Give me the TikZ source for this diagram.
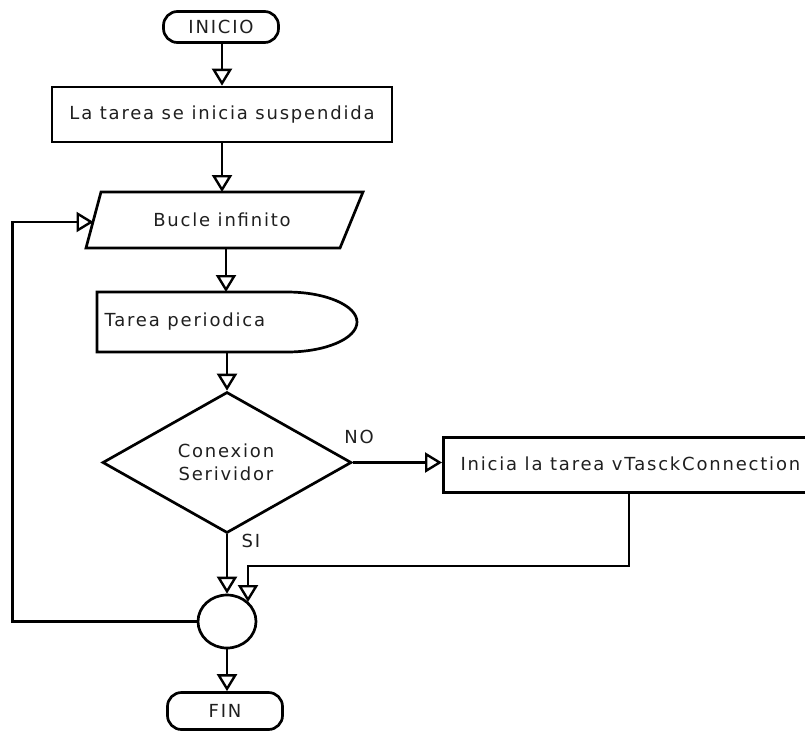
\documentclass[tikz,border=0pt]{standalone}
\usepackage{fontspec}
\newfontfamily\chartfont[LetterSpace=10]{DejaVu Sans}
\usetikzlibrary{arrows.meta,shapes.geometric,calc}
\begin{document}
\begin{tikzpicture}[x=1pt,y=-1pt,
  every node/.style={font=\chartfont\fontsize{18}{23}\selectfont, text=black!88},
  shapeline/.style={draw=black, line width=2.7pt},
  flow/.style={draw=black, line width=2.7pt,
    -{Triangle[open,length=17pt,width=20pt,line width=2.4pt]}},
  terminal/.style={shapeline, rounded corners=14pt, minimum width=115pt, inner sep=0pt},
  process/.style={shapeline, inner sep=0pt},
]
\useasboundingbox (0,0) rectangle (805,732);
\clip (0,0) rectangle (805,732);

% start
\node[terminal, minimum height=31pt] (inicio) at (221,27) {INICIO};

% first process box
\node[process, minimum width=340pt, minimum height=55pt] (suspend) at (222,114.5)
  {La tarea se inicia suspendida};

% loop header (parallelogram)
\draw[shapeline] (101,192) -- (363,192) -- (340,248) -- (86,248) -- cycle;
\node (bucle) at (222,220) {Bucle infinito};
\coordinate (bucletop) at (222,192);
\coordinate (buclebot) at (226,248);
\coordinate (bucleleft) at (93.5,222);

% periodic task (delay shape)
\draw[shapeline] (97,292) -- (287,292)
  arc[start angle=-90, end angle=90, x radius=70, y radius=30] -- (97,352) -- cycle;
\node[anchor=west] (tarea) at (101,322) {Tarea periodica};
\coordinate (tareatop) at (226,292);
\coordinate (tareabot) at (227,352);

% decision
\node[diamond, shapeline, minimum width=249pt, minimum height=141pt, inner sep=0pt]
  (cond) at (227,462.5) {};
\node[align=center] (condtxt) at (226,462) {Conexion\\Serividor};
\node (no) at (359,437) {NO};
\node (si) at (251,541) {SI};

% connection task
\node[process, minimum width=370pt, minimum height=55pt, anchor=north west]
  (conn) at (442,436) {};
\node[anchor=west] (conntxt) at (457,463.5) {Inicia la tarea vTasckConnection};
\coordinate (connout) at (629,491);

% merge point
\node[ellipse, shapeline, minimum width=58pt, minimum height=53pt, inner sep=0pt]
  (merge) at (227,621.5) {};
\coordinate (mergein) at (248,602);

% end
\node[terminal, minimum height=37pt] (fin) at (225,711) {FIN};

% connectors
\draw[flow] (inicio.south -| suspend.north) -- (suspend.north);
\draw[flow] (suspend.south) -- (bucletop);
\draw[flow] (buclebot) -- (tareatop);
\draw[flow] (tareabot) -- (cond.north);
\draw[flow] (cond.east) -- (cond.east -| conn.west);
\draw[flow] (cond.south) -- (merge.north);
\draw[flow] (connout) -- ++(0,75) -| (mergein);
\draw[flow] (merge.south) -- (merge.south |- fin.north);
\draw[flow] (merge.west) -- ++(-184,0) |- (bucleleft);
\end{tikzpicture}
\end{document}
